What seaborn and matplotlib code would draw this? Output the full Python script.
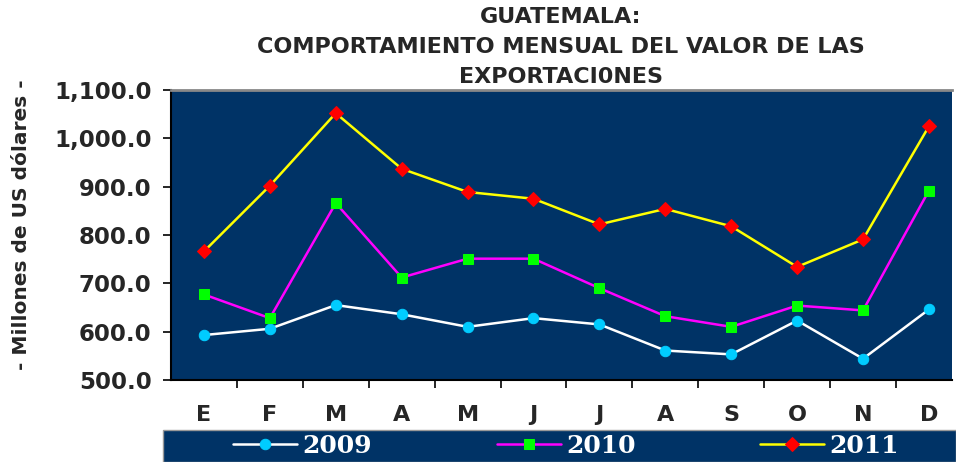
import pandas as pd
import matplotlib
matplotlib.use('Agg')
import matplotlib.pyplot as plt
import seaborn as sns
from matplotlib.patches import Rectangle
from matplotlib.ticker import FuncFormatter, FixedLocator

# datos (millones de US$)
meses = ['E', 'F', 'M', 'A', 'M', 'J', 'J', 'A', 'S', 'O', 'N', 'D']
v2009 = [593, 606, 655, 636, 610, 628, 615, 561, 553, 623, 544, 646]
v2010 = [677, 628, 866, 712, 751, 751, 690, 632, 610, 654, 644, 892]
v2011 = [766, 902, 1052, 937, 889, 875, 822, 854, 818, 734, 791, 1025]
anios = ['2009', '2010', '2011']

navy = '#003366'
sns.set_style('white')
plt.rcParams['font.family'] = ['DejaVu Sans']

fig = plt.figure(figsize=(9.56, 4.62), dpi=100)
ax = fig.add_axes([171/956, 82/462, 781/956, 290/462])
ax.set_facecolor(navy)

x = list(range(len(meses)))
estilos = [
    (v2009, 'white', 'o', '#00CCFF', 7.5),
    (v2010, '#FF00FF', 's', '#00FF00', 7),
    (v2011, '#FFFF00', 'D', '#FF0000', 7),
]
for anio, (vals, col, mk, mcol, ms) in zip(anios, estilos):
    sns.lineplot(x=x, y=vals, ax=ax, color=col, linewidth=1.8, marker=mk,
                 markersize=ms, markerfacecolor=mcol, markeredgecolor=mcol,
                 label=anio, legend=False)

ax.set_xlim(-0.5, 11.35)
ax.set_ylim(500, 1100)
ax.set_yticks(range(500, 1101, 100))
ax.yaxis.set_major_formatter(FuncFormatter(lambda v, p: f'{v:,.1f}'))
ax.set_xticks(x)
ax.set_xticklabels(meses)
ax.xaxis.set_minor_locator(FixedLocator([i + 0.5 for i in range(11)]))
ax.tick_params(axis='x', which='major', length=0, pad=18)
ax.tick_params(axis='x', which='minor', bottom=True, length=6, width=1.2, color='black', direction='out')
ax.tick_params(axis='y', left=True, length=6, width=1.2, color='black', direction='out', pad=8)
for lbl in ax.get_xticklabels():
    lbl.set_fontweight('bold')
    lbl.set_fontsize(16)
for lbl in ax.get_yticklabels():
    lbl.set_fontweight('bold')
    lbl.set_fontsize(16.5)

for s in ['left', 'bottom']:
    ax.spines[s].set_color('black')
    ax.spines[s].set_linewidth(1.5)
ax.spines['top'].set_color('#888888')
ax.spines['top'].set_linewidth(2)
ax.spines['right'].set_visible(False)

ax.set_xlabel('')
ax.set_ylabel('')
fig.text(22/956, 237/462, '- Millones de US dólares -', rotation=90, ha='center', va='center',
         fontsize=14.5, fontweight='bold')

fig.text(561/956, (462-47)/462, 'GUATEMALA:\nCOMPORTAMIENTO MENSUAL DEL VALOR DE LAS\nEXPORTACI0NES',
         ha='center', va='center', fontsize=16, fontweight='bold', linespacing=1.62)

# leyenda
fig.patches.append(Rectangle((163/956, 0), (956-163)/956, 32/462, transform=fig.transFigure,
                             facecolor=navy, edgecolor='#999999', linewidth=1, zorder=0))
h, l = ax.get_legend_handles_labels()
leg = fig.legend(h, l, loc='center', bbox_to_anchor=(566/956, 16/462), ncol=3, frameon=False,
                 handlelength=2.56, handletextpad=0.2, columnspacing=5.0,
                 prop={'family': 'DejaVu Serif', 'weight': 'bold', 'size': 18})
for t in leg.get_texts():
    t.set_color('white')

fig.savefig('out.png', dpi=100)
